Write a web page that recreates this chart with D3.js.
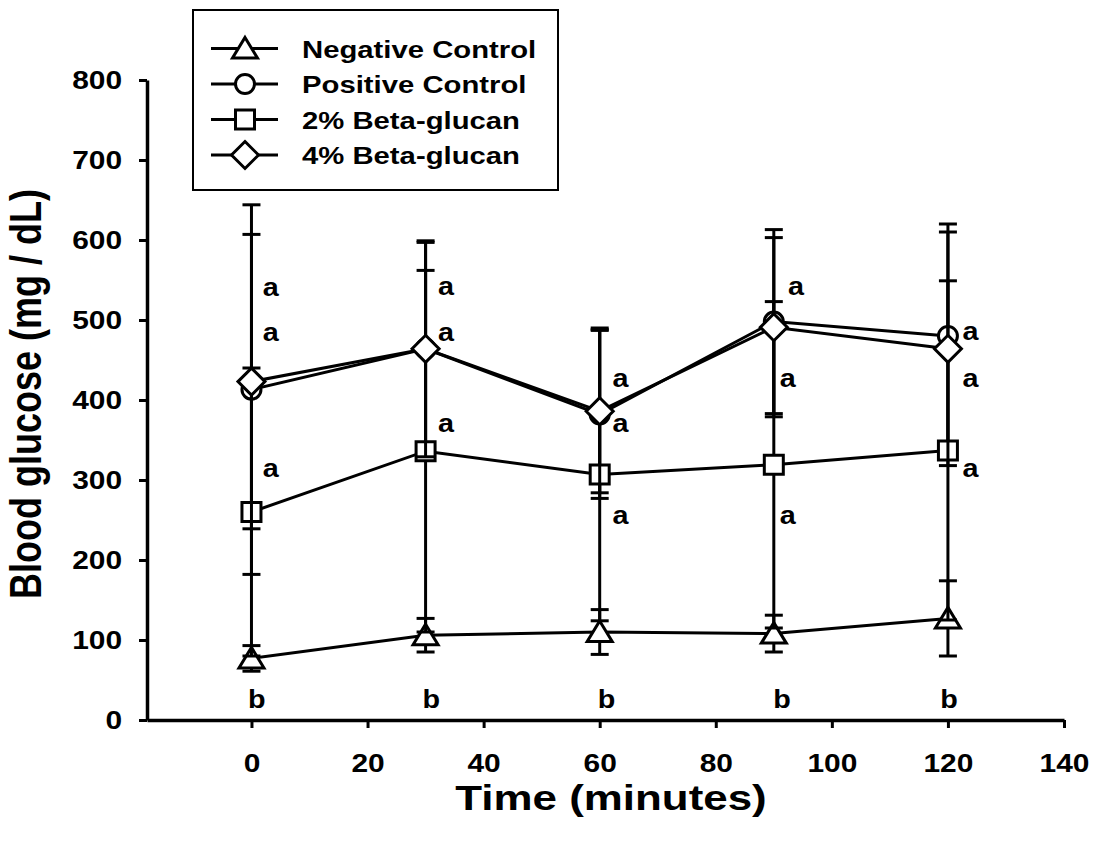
<!DOCTYPE html>
<html>
<head>
<meta charset="utf-8">
<script src="https://cdn.jsdelivr.net/npm/d3@7"></script>
<style>
  body { margin: 0; background: #fff; }
  svg { display: block; font-family: Arial, "Liberation Sans", sans-serif; font-weight: bold; }
</style>
</head>
<body>
<svg width="1097" height="843"></svg>
<script>
// time points (minutes)
let times = [0, 30, 60, 90, 120];

let seriesNames = ["Negative Control", "Positive Control", "2% Beta-glucan", "4% Beta-glucan"];
let seriesSymbols = ["triangle", "circle", "square", "diamond"];

// mean blood glucose (mg/dL)
let negMean = [77, 106, 110, 108, 127];
let posMean = [413, 464, 382, 498, 480];
let beta2Mean = [260, 336, 307, 319, 337];
let beta4Mean = [423, 464, 386, 491, 464];

// standard deviations
let negSd = [16, 21, 28, 23, 47];
let posSd = [231, 133, 105, 115, 140];
let beta2Sd = [180, 226, 183, 204, 212];
let beta4Sd = [184, 135, 102, 112, 146];

// significance letters: time position, glucose level, letter
let letterX = [3.3, 3.3, 3.3, 33.5, 33.5, 33.5, 63.6, 63.6, 63.6, 93.8, 92.4, 92.4, 123.9, 123.9, 123.9,
               0.9, 31.0, 61.2, 91.4, 120.2];
let letterY = [541, 484, 314, 542, 484, 371, 427, 371, 256, 542, 427, 256, 485, 427, 314,
               26, 26, 26, 26, 26];
let letterText = ["a", "a", "a", "a", "a", "a", "a", "a", "a", "a", "a", "a", "a", "a", "a",
                  "b", "b", "b", "b", "b"];

let xTicks = [0, 20, 40, 60, 80, 100, 120, 140];
let yTicks = [0, 100, 200, 300, 400, 500, 600, 700, 800];

let means = [negMean, posMean, beta2Mean, beta4Mean];
let sds = [negSd, posSd, beta2Sd, beta4Sd];

let series = seriesNames.map((name, i) => ({
  name: name,
  symbol: seriesSymbols[i],
  points: times.map((t, j) => ({ t: t, v: means[i][j], sd: sds[i][j] }))
}));

// the original figure's text is stretched sideways
let stretch = 1.22;
let tickStretch = 1.15;

let svg = d3.select("svg");

let xScale = d3.scaleLinear().domain([-18, 140]).range([147, 1064]);
let yScale = d3.scaleLinear().domain([0, 800]).range([720, 80]);

// marker shapes, drawn around 0,0
function symbolPath(type) {
  if (type == "triangle") return "M0,-11L12.5,9.5L-12.5,9.5Z";
  if (type == "square") return "M-9.5,-9.5H9.5V9.5H-9.5Z";
  if (type == "diamond") return "M0,-13.5L13.5,0L0,13.5L-13.5,0Z";
  return "M9.5,0A9.5,9.5 0 1,1 -9.5,0A9.5,9.5 0 1,1 9.5,0Z";
}

// Axes
let xAxis = d3.axisBottom(xScale).tickValues(xTicks).tickSizeInner(8).tickSizeOuter(0).tickPadding(26);
let yAxis = d3.axisLeft(yScale).tickValues(yTicks).tickSizeInner(8).tickSizeOuter(0).tickPadding(17);

let gx = svg.append("g")
  .attr("transform", "translate(0,720)")
  .call(xAxis);
let gy = svg.append("g")
  .attr("transform", "translate(147,0)")
  .call(yAxis);

[gx, gy].forEach(g => {
  g.select(".domain").attr("stroke", "#000").attr("stroke-width", 3.5);
  g.selectAll(".tick line").attr("stroke", "#000").attr("stroke-width", 3);
  g.selectAll(".tick text")
    .attr("fill", "#000")
    .attr("x", function () { return +d3.select(this).attr("x") / tickStretch; })
    .attr("transform", `scale(${tickStretch},1)`)
    .style("font-size", "26px")
    .style("font-family", "Arial, 'Liberation Sans', sans-serif")
    .style("font-weight", "bold");
});

// Series: error bars, then line, then markers
let line = d3.line().x(d => xScale(d.t)).y(d => yScale(d.v));

series.forEach(s => {
  let g = svg.append("g");

  g.selectAll(".err")
    .data(s.points)
    .enter()
    .append("line")
    .attr("x1", d => xScale(d.t))
    .attr("x2", d => xScale(d.t))
    .attr("y1", d => yScale(d.v + d.sd))
    .attr("y2", d => yScale(d.v - d.sd))
    .attr("stroke", "#000")
    .attr("stroke-width", 3);

  let caps = [];
  s.points.forEach(p => { caps.push({ t: p.t, v: p.v + p.sd }); caps.push({ t: p.t, v: p.v - p.sd }); });
  g.selectAll(".cap")
    .data(caps)
    .enter()
    .append("line")
    .attr("x1", d => xScale(d.t) - 9)
    .attr("x2", d => xScale(d.t) + 9)
    .attr("y1", d => yScale(d.v))
    .attr("y2", d => yScale(d.v))
    .attr("stroke", "#000")
    .attr("stroke-width", 3);

  g.append("path")
    .datum(s.points)
    .attr("d", line)
    .attr("fill", "none")
    .attr("stroke", "#000")
    .attr("stroke-width", 3);

  g.selectAll(".mark")
    .data(s.points)
    .enter()
    .append("path")
    .attr("d", symbolPath(s.symbol))
    .attr("transform", d => `translate(${xScale(d.t)},${yScale(d.v)})`)
    .attr("fill", "#fff")
    .attr("stroke", "#000")
    .attr("stroke-width", 3);
});

// Significance letters
svg.append("g")
  .selectAll("text")
  .data(letterText)
  .enter()
  .append("text")
  .attr("transform", (d, i) => `translate(${xScale(letterX[i])},${yScale(letterY[i])}) scale(${tickStretch},1)`)
  .attr("text-anchor", "middle")
  .attr("dominant-baseline", "central")
  .style("font-size", "25px")
  .text(d => d);

// Axis titles
svg.append("text")
  .attr("transform", `translate(611,810) scale(${stretch},1)`)
  .attr("text-anchor", "middle")
  .style("font-size", "36px")
  .text("Time (minutes)");

svg.append("text")
  .attr("transform", `translate(41,394) scale(${stretch},1) rotate(-90)`)
  .attr("text-anchor", "middle")
  .style("font-size", "36px")
  .text("Blood glucose (mg / dL)");

// Legend
let legend = svg.append("g");
legend.append("rect")
  .attr("x", 193)
  .attr("y", 10)
  .attr("width", 365)
  .attr("height", 180)
  .attr("fill", "#fff")
  .attr("stroke", "#000")
  .attr("stroke-width", 2);

let rows = legend.selectAll(".row")
  .data(series)
  .enter()
  .append("g")
  .attr("transform", (d, i) => `translate(0,${48.5 + i * 35.5})`);

rows.append("line")
  .attr("x1", 211)
  .attr("x2", 278)
  .attr("stroke", "#000")
  .attr("stroke-width", 3);

rows.append("path")
  .attr("d", d => symbolPath(d.symbol))
  .attr("transform", "translate(245,0)")
  .attr("fill", "#fff")
  .attr("stroke", "#000")
  .attr("stroke-width", 3);

rows.append("text")
  .attr("transform", `translate(302,9) scale(${stretch},1)`)
  .style("font-size", "24px")
  .text(d => d.name);
</script>
</body>
</html>
